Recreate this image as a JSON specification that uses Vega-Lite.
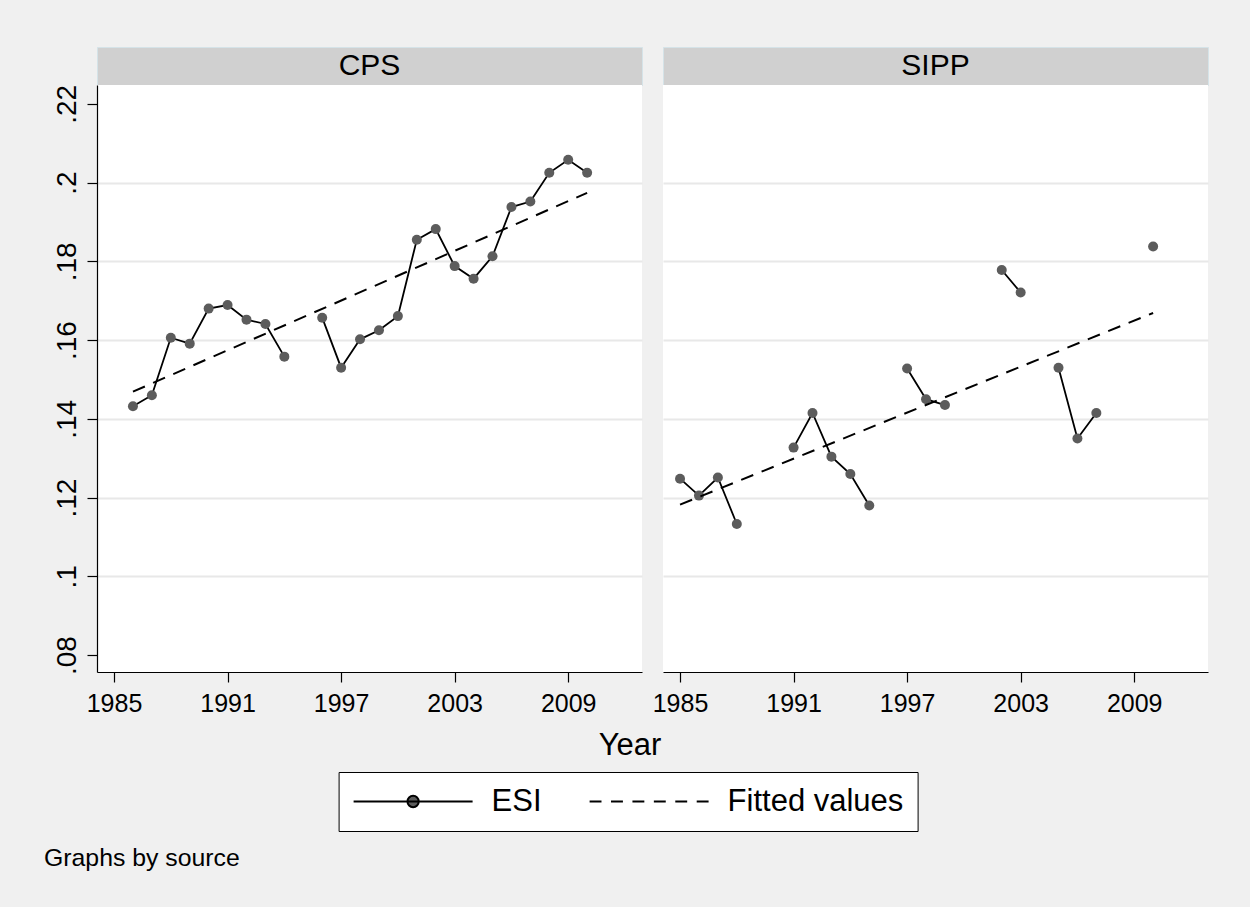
{
  "$schema": "https://vega.github.io/schema/vega-lite/v6.json",
  "background": "#f0f0f0",
  "padding": {"left": 43, "top": 46, "right": 42, "bottom": 45},
  "config": {
    "font": "Liberation Sans",
    "view": {"stroke": null},
    "axis": {
      "labelColor": "black",
      "labelFontSize": 25,
      "domainColor": "black",
      "domainWidth": 1.2,
      "tickColor": "black",
      "tickWidth": 1.2,
      "tickSize": 10,
      "gridColor": "#e8e8e8",
      "gridWidth": 2,
      "titleColor": "black",
      "titleFontWeight": "normal",
      "labelFlush": false
    }
  },
  "datasets": {
    "esi": [
      {"source": "CPS", "year": 1986, "value": 0.1432},
      {"source": "CPS", "year": 1987, "value": 0.1460},
      {"source": "CPS", "year": 1988, "value": 0.1606},
      {"source": "CPS", "year": 1989, "value": 0.1591},
      {"source": "CPS", "year": 1990, "value": 0.1680},
      {"source": "CPS", "year": 1991, "value": 0.1689},
      {"source": "CPS", "year": 1992, "value": 0.1652},
      {"source": "CPS", "year": 1993, "value": 0.1641},
      {"source": "CPS", "year": 1994, "value": 0.1558},
      {"source": "CPS", "year": 1995, "value": null},
      {"source": "CPS", "year": 1996, "value": 0.1657},
      {"source": "CPS", "year": 1997, "value": 0.1530},
      {"source": "CPS", "year": 1998, "value": 0.1602},
      {"source": "CPS", "year": 1999, "value": 0.1625},
      {"source": "CPS", "year": 2000, "value": 0.1661},
      {"source": "CPS", "year": 2001, "value": 0.1855},
      {"source": "CPS", "year": 2002, "value": 0.1882},
      {"source": "CPS", "year": 2003, "value": 0.1788},
      {"source": "CPS", "year": 2004, "value": 0.1756},
      {"source": "CPS", "year": 2005, "value": 0.1813},
      {"source": "CPS", "year": 2006, "value": 0.1938},
      {"source": "CPS", "year": 2007, "value": 0.1952},
      {"source": "CPS", "year": 2008, "value": 0.2025},
      {"source": "CPS", "year": 2009, "value": 0.2058},
      {"source": "CPS", "year": 2010, "value": 0.2025},
      {"source": "SIPP", "year": 1985, "value": 0.1248},
      {"source": "SIPP", "year": 1986, "value": 0.1205},
      {"source": "SIPP", "year": 1987, "value": 0.1251},
      {"source": "SIPP", "year": 1988, "value": 0.1133},
      {"source": "SIPP", "year": 1989, "value": null},
      {"source": "SIPP", "year": 1990, "value": null},
      {"source": "SIPP", "year": 1991, "value": 0.1327},
      {"source": "SIPP", "year": 1992, "value": 0.1415},
      {"source": "SIPP", "year": 1993, "value": 0.1304},
      {"source": "SIPP", "year": 1994, "value": 0.1260},
      {"source": "SIPP", "year": 1995, "value": 0.1180},
      {"source": "SIPP", "year": 1996, "value": null},
      {"source": "SIPP", "year": 1997, "value": 0.1528},
      {"source": "SIPP", "year": 1998, "value": 0.1450},
      {"source": "SIPP", "year": 1999, "value": 0.1435},
      {"source": "SIPP", "year": 2000, "value": null},
      {"source": "SIPP", "year": 2001, "value": null},
      {"source": "SIPP", "year": 2002, "value": 0.1778},
      {"source": "SIPP", "year": 2003, "value": 0.1721},
      {"source": "SIPP", "year": 2004, "value": null},
      {"source": "SIPP", "year": 2005, "value": 0.1530},
      {"source": "SIPP", "year": 2006, "value": 0.1350},
      {"source": "SIPP", "year": 2007, "value": 0.1415},
      {"source": "SIPP", "year": 2008, "value": null},
      {"source": "SIPP", "year": 2009, "value": null},
      {"source": "SIPP", "year": 2010, "value": 0.1838}
    ],
    "fit": [
      {"source": "CPS", "year": 1986, "value": 0.1469},
      {"source": "CPS", "year": 2010, "value": 0.1974},
      {"source": "SIPP", "year": 1985, "value": 0.1182},
      {"source": "SIPP", "year": 2010, "value": 0.1669}
    ]
  },
  "title": {
    "text": "Graphs by source",
    "orient": "bottom",
    "anchor": "start",
    "frame": "bounds",
    "fontSize": 24.8,
    "fontWeight": "normal",
    "color": "black",
    "offset": 14,
    "dx": -9
  },
  "resolve": {"scale": {"shape": "shared"}, "legend": {"shape": "shared"}},
  "spacing": -9,
  "hconcat": [
    {
      "bounds": "flush",
      "spacing": 0,
      "vconcat": [
        {
          "width": 545,
          "height": 38,
          "view": {"fill": "#d0d0d0", "stroke": "#d5e3e8"},
          "data": {"values": [{"label": "CPS"}]},
          "mark": {"type": "text", "fontSize": 30, "color": "black"},
          "encoding": {"text": {"field": "label"}}
        },
        {
          "width": 545,
          "height": 587,
          "view": {"fill": "white", "stroke": null},
          "encoding": {
            "x": {
              "field": "year",
              "type": "quantitative",
              "scale": {"domain": [1984.1, 2012.9], "nice": false, "zero": false},
              "axis": {
                "values": [1985, 1991, 1997, 2003, 2009],
                "format": "d",
                "grid": false,
                "labelPadding": 9,
                "title": "Year",
                "titleFontSize": 31,
                "titleX": 532.5,
                "titleY": 82,
                "titleAlign": "center",
                "titleBaseline": "alphabetic"
              }
            },
            "y": {
              "field": "value",
              "type": "quantitative",
              "scale": {"domain": [0.0757, 0.2248], "nice": false, "zero": false},
              "axis": {
                "values": [0.08, 0.1, 0.12, 0.14, 0.16, 0.18, 0.2, 0.22],
                "format": ".2~f",
                "labelExpr": "substring(datum.label, 1)",
                "labelAngle": 270,
                "labelAlign": "center",
                "labelBaseline": "alphabetic",
                "labelPadding": 12,
                "labelFontSize": 28,
                "title": null,
                "grid": true,
                "gridOpacity": {"condition": {"test": "datum.value < 0.09 || datum.value > 0.21", "value": 0}, "value": 1}
              }
            }
          },
          "layer": [
            {
              "data": {"name": "esi"},
              "transform": [{"filter": "datum.source === 'CPS'"}],
              "mark": {"type": "line", "color": "black", "strokeWidth": 1.8, "invalid": "break-paths-filter-domains"}
            },
            {
              "data": {"name": "esi"},
              "transform": [{"filter": "datum.source === 'CPS'"}],
              "mark": {"type": "point", "filled": true, "color": "#5c5c5c", "size": 100, "opacity": 1}
            },
            {
              "data": {"name": "fit"},
              "transform": [{"filter": "datum.source === 'CPS'"}],
              "mark": {"type": "line", "color": "black", "strokeWidth": 2, "strokeDash": [13, 9]}
            },
            {
              "data": {"name": "fit"},
              "transform": [{"filter": "datum.source === 'CPS'"}],
              "mark": {"type": "point", "opacity": 0, "filled": false, "fill": "#5c5c5c", "stroke": "black", "strokeWidth": 2},
              "encoding": {
                "shape": {
                  "datum": "ESI",
                  "type": "nominal",
                  "scale": {
                    "domain": ["ESI", "Fitted values"],
                    "range": [
                      "M-1,0H1M0.095,0A0.095,0.095,0,1,1,-0.095,0A0.095,0.095,0,1,1,0.095,0",
                      "M-1,0H-0.8M-0.64,0H-0.44M-0.28,0H-0.08M0.08,0H0.28M0.44,0H0.64M0.8,0H1"
                    ]
                  },
                  "legend": {
                    "title": null,
                    "orient": "none",
                    "legendX": 241.6,
                    "legendY": 725,
                    "direction": "horizontal",
                    "fillColor": "white",
                    "strokeColor": "black",
                    "padding": 14,
                    "clipHeight": 31,
                    "symbolSize": 14161,
                    "symbolStrokeWidth": 2,
                    "labelOffset": 18,
                    "columnPadding": 47,
                    "labelFontSize": 31,
                    "labelColor": "black",
                    "labelLimit": 400
                  }
                }
              }
            }
          ]
        }
      ]
    },
    {
      "bounds": "flush",
      "spacing": 0,
      "vconcat": [
        {
          "width": 545,
          "height": 38,
          "view": {"fill": "#d0d0d0", "stroke": "#d5e3e8"},
          "data": {"values": [{"label": "SIPP"}]},
          "mark": {"type": "text", "fontSize": 30, "color": "black"},
          "encoding": {"text": {"field": "label"}}
        },
        {
          "width": 545,
          "height": 587,
          "view": {"fill": "white", "stroke": null},
          "encoding": {
            "x": {
              "field": "year",
              "type": "quantitative",
              "scale": {"domain": [1984.1, 2012.9], "nice": false, "zero": false},
              "axis": {
                "values": [1985, 1991, 1997, 2003, 2009],
                "format": "d",
                "grid": false,
                "labelPadding": 9,
                "title": null
              }
            },
            "y": {
              "field": "value",
              "type": "quantitative",
              "scale": {"domain": [0.0757, 0.2248], "nice": false, "zero": false},
              "axis": {
                "values": [0.08, 0.1, 0.12, 0.14, 0.16, 0.18, 0.2, 0.22],
                "labels": false,
                "ticks": false,
                "domain": false,
                "title": null,
                "grid": true,
                "gridOpacity": {"condition": {"test": "datum.value < 0.09 || datum.value > 0.21", "value": 0}, "value": 1}
              }
            }
          },
          "layer": [
            {
              "data": {"name": "esi"},
              "transform": [{"filter": "datum.source === 'SIPP'"}],
              "mark": {"type": "line", "color": "black", "strokeWidth": 1.8, "invalid": "break-paths-filter-domains"}
            },
            {
              "data": {"name": "esi"},
              "transform": [{"filter": "datum.source === 'SIPP'"}],
              "mark": {"type": "point", "filled": true, "color": "#5c5c5c", "size": 100, "opacity": 1}
            },
            {
              "data": {"name": "fit"},
              "transform": [{"filter": "datum.source === 'SIPP'"}],
              "mark": {"type": "line", "color": "black", "strokeWidth": 2, "strokeDash": [13, 9]}
            }
          ]
        }
      ]
    }
  ]
}
